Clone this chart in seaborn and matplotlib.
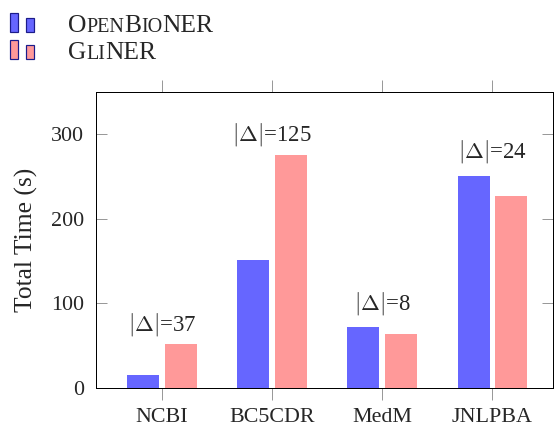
import matplotlib
matplotlib.use("Agg")
import matplotlib.pyplot as plt
import pandas as pd
import seaborn as sns
from matplotlib.patches import Rectangle
from matplotlib.offsetbox import (AnnotationBbox, DrawingArea, HPacker,
                                  TextArea, VPacker)

# data
datasets = ["NCBI", "BC5CDR", "MedM", "JNLPBA"]
openbioner_time = [15, 151, 72, 251]
gliner_time = [52, 276, 64, 227]
delta_label_y = [68, 293, 93, 273]
models = ["OpenBioNER", "GliNER"]
colors = ["#6666ff", "#ff9999"]
y_ticks = [0, 100, 200, 300]

# small caps pieces for the legend: (text, is_capital)
legend_pieces = [
    [("O", True), ("PEN", False), ("B", True), ("IO", False), ("NER", True)],
    [("G", True), ("LI", False), ("NER", True)],
]

df = pd.DataFrame({
    "dataset": datasets * 2,
    "time": openbioner_time + gliner_time,
    "model": [models[0]] * len(datasets) + [models[1]] * len(datasets),
})

sns.set_style("ticks")
plt.rcParams["font.family"] = ["Liberation Serif", "DejaVu Serif"]
plt.rcParams["mathtext.fontset"] = "cm"

TICK_FS = 22
LABEL_FS = 25.5
ANNOT_FS = 22.7
LEG_FS = 25.5

fig = plt.figure(figsize=(554 / 72, 426 / 72), dpi=72)
ax = fig.add_axes([96 / 554, 1 - 388 / 426, 457 / 554, 296 / 426])

sns.barplot(data=df, x="dataset", y="time", hue="model", palette=colors,
            width=0.684, gap=0.15, saturation=1, linewidth=0,
            legend=False, ax=ax)

ax.set_xlim(-0.6, 3.55)
ax.set_ylim(0, 350)
ax.set_yticks(y_ticks)
ax.set_xlabel("")
ax.set_ylabel("Total Time (s)", fontsize=LABEL_FS, labelpad=13)

for sp in ax.spines.values():
    sp.set_visible(True)
    sp.set_color("black")
    sp.set_linewidth(1)

ax.tick_params(axis="y", direction="in", length=11, width=1, color="#999999",
               left=True, right=True, labelsize=TICK_FS, pad=12)
ax.tick_params(axis="x", direction="out", length=12, width=1, color="#999999",
               bottom=True, top=True, labelsize=TICK_FS, pad=8)

# |delta| annotations above each group
for i in range(len(datasets)):
    d = abs(openbioner_time[i] - gliner_time[i])
    ax.text(i, delta_label_y[i], f"$|\\Delta|$={d}", ha="center",
            va="baseline", fontsize=ANNOT_FS)

# legend outside the axes, top left, with small caps labels
rows = []
for color, pieces in zip(colors, legend_pieces):
    icon = DrawingArea(26, 19, 0, 3)
    icon.add_artist(Rectangle((1, 0), 7.5, 19, facecolor=color,
                              edgecolor="#1c1c8a", linewidth=1.2))
    icon.add_artist(Rectangle((17, 0), 7.5, 14.5, facecolor=color,
                              edgecolor="#1c1c8a", linewidth=1.2))
    texts = [TextArea(t, textprops=dict(fontsize=LEG_FS if cap else LEG_FS * 0.79))
             for t, cap in pieces]
    label = HPacker(children=texts, sep=0, pad=0, align="baseline")
    rows.append(HPacker(children=[icon, label], sep=33, pad=0,
                        align="baseline"))
legend_box = VPacker(children=rows, sep=5, pad=0, align="left")
ab = AnnotationBbox(legend_box, (9, 426 - 15), xycoords="figure pixels",
                    box_alignment=(0, 1), frameon=False, pad=0)
fig.add_artist(ab)

fig.savefig("out.png", dpi=72)
